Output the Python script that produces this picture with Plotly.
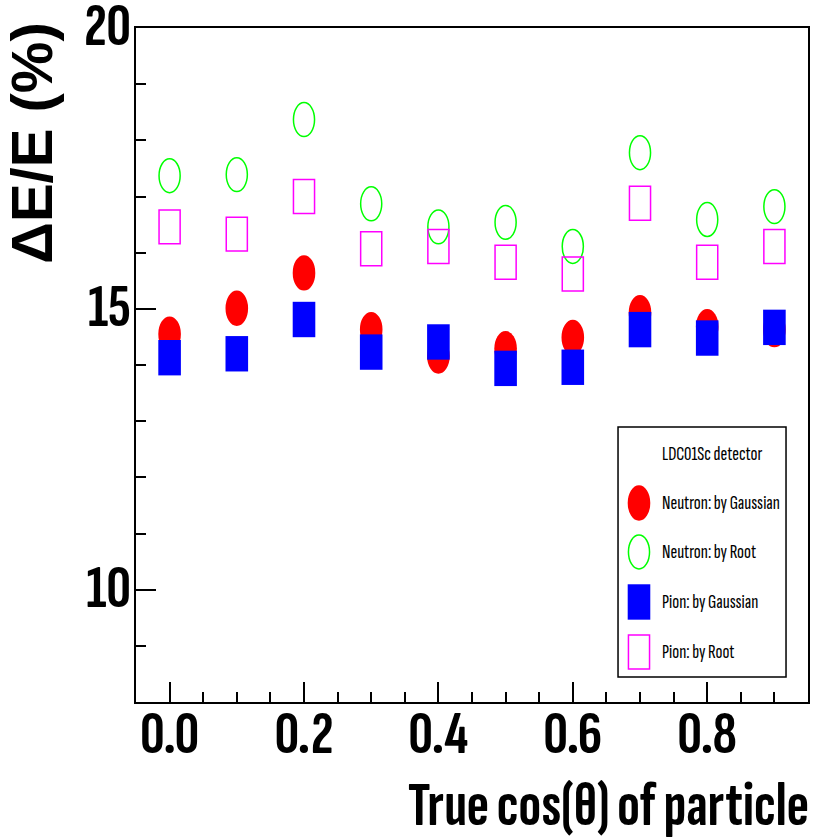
import plotly.graph_objects as go

# Energy resolution vs. true cos(theta), LDC01Sc detector
cos_theta = [0.0, 0.1, 0.2, 0.3, 0.4, 0.5, 0.6, 0.7, 0.8, 0.9]
neutron_gauss = [14.55, 15.01, 15.64, 14.63, 14.16, 14.29, 14.49, 14.93, 14.68, 14.63]
neutron_root = [17.37, 17.39, 18.37, 16.87, 16.46, 16.54, 16.11, 17.78, 16.59, 16.82]
pion_gauss = [14.13, 14.20, 14.81, 14.23, 14.41, 13.94, 13.96, 14.63, 14.48, 14.67]
pion_root = [16.46, 16.33, 17.00, 16.07, 16.11, 15.83, 15.62, 16.88, 15.83, 16.11]

series = [
    ("Neutron: by Gaussian", neutron_gauss, "circle", "#ff0000", True),
    ("Neutron: by Root", neutron_root, "circle", "#00ff00", False),
    ("Pion: by Gaussian", pion_gauss, "rect", "#0000ff", True),
    ("Pion: by Root", pion_root, "rect", "#ff00ff", False),
]
legend_title = "LDC01Sc detector"

NARROW = ("Sofia Sans Extra Condensed, Roboto Condensed, Liberation Sans Narrow, "
          "DejaVu Sans Condensed, sans-serif")
BOLD = "Liberation Sans, Arial, sans-serif"

# marker half-sizes in pixels (tall ellipses / tall boxes)
HW, HH = 11.3, 17.7


def marker_shape(kind, color, filled, x, y, xref, yref):
    if filled:
        hw, hh = HW, HH
        line = dict(width=0)
        fill = color
    else:
        hw, hh = HW - 0.75, HH - 0.75
        line = dict(color=color, width=1.5)
        fill = "rgba(0,0,0,0)"
    return dict(
        type=kind, xref=xref, yref=yref,
        xsizemode="pixel", ysizemode="pixel",
        xanchor=x, yanchor=y,
        x0=-hw, x1=hw, y0=-hh, y1=hh,
        line=line, fillcolor=fill, layer="above",
    )


fig = go.Figure()
shapes = []
for name, vals, kind, color, filled in series:
    fig.add_trace(go.Scatter(
        x=cos_theta, y=vals, mode="markers", name=name,
        marker=dict(size=22, color=color, opacity=0),
        showlegend=False,
        hovertemplate=name + "<br>cos(θ)=%{x:.1f}<br>ΔE/E=%{y:.2f}%<extra></extra>",
    ))
    for xv, yv in zip(cos_theta, vals):
        shapes.append(marker_shape(kind, color, filled, xv, yv, "x", "y"))

# legend box
L_X0, L_X1, L_Y0, L_Y1 = 0.7173, 0.9673, 0.0371, 0.408
shapes.append(dict(type="rect", xref="paper", yref="paper",
                   x0=L_X0, x1=L_X1, y0=L_Y0, y1=L_Y1,
                   line=dict(color="black", width=1.5), fillcolor="white",
                   layer="above"))
annotations = [dict(
    text=legend_title, xref="paper", yref="paper", x=0.7798, y=0.368,
    xanchor="left", yanchor="middle", showarrow=False,
    font=dict(family=NARROW, size=20.5, color="black"),
)]
entry_y = [0.2953, 0.2226, 0.1484, 0.0742]
for (name, vals, kind, color, filled), ey in zip(series, entry_y):
    shapes.append(marker_shape(kind, color, filled, 0.7485, ey, "paper", "paper"))
    annotations.append(dict(
        text=name, xref="paper", yref="paper", x=0.7798, y=ey,
        xanchor="left", yanchor="middle", showarrow=False,
        font=dict(family=NARROW, size=20.5, color="black"),
    ))

# axis titles
annotations.append(dict(
    text="True cos(θ) of particle", xref="paper", yref="paper",
    x=1.005, y=-0.155, xanchor="right", yanchor="middle", showarrow=False,
    font=dict(family=NARROW, size=62, color="black", weight="bold"),
))
annotations.append(dict(
    text="ΔE/E (%)", xref="paper", yref="paper", textangle=-90,
    x=-0.155, y=1.012, xanchor="center", yanchor="top", showarrow=False,
    font=dict(family=BOLD, size=58, color="black", weight="bold"),
))

axis_common = dict(
    showgrid=False, zeroline=False, showline=True, linecolor="black",
    linewidth=2, mirror=True, ticks="inside", ticklen=20, tickwidth=1.5,
    tickcolor="black", ticklabeloverflow="allow", automargin=False,
    tickfont=dict(family=NARROW, size=61, color="black", weight="bold"),
)

fig.update_layout(
    width=814, height=840,
    margin=dict(l=136, r=6, t=28, b=138),
    paper_bgcolor="white", plot_bgcolor="white",
    shapes=shapes, annotations=annotations,
    xaxis=dict(
        range=[-0.05, 0.95], tick0=0, dtick=0.2, tickformat=".1f",
        ticklabelstandoff=-24,
        minor=dict(ticks="inside", ticklen=10, dtick=0.05, tick0=0,
                   tickwidth=1.5, tickcolor="black", showgrid=False),
        **axis_common,
    ),
    yaxis=dict(
        range=[8, 20], tick0=0, dtick=5, ticklabelstandoff=-9,
        ticklabelshift=-4,
        minor=dict(ticks="inside", ticklen=10, dtick=1, tick0=0,
                   tickwidth=1.5, tickcolor="black", showgrid=False),
        **axis_common,
    ),
    showlegend=False,
)

fig.write_html("out.html")
